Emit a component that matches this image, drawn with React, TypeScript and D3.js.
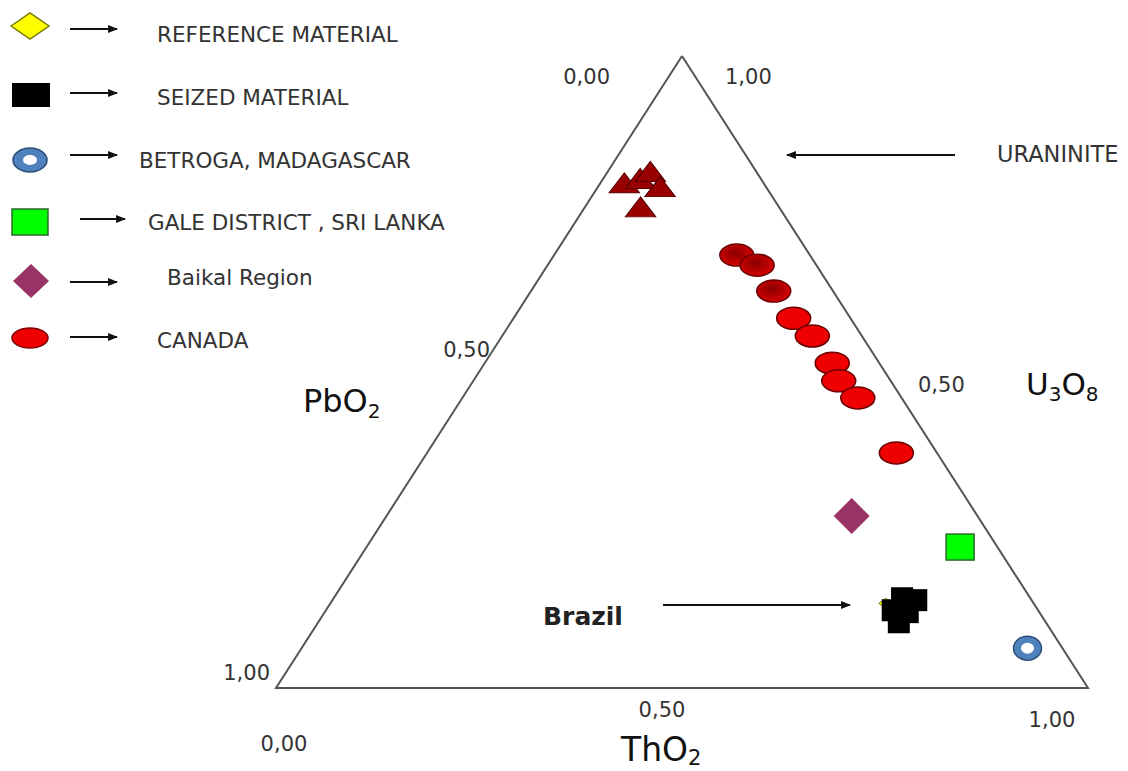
import * as d3 from 'd3'

const W = 1128
const H = 771

// compositions as [PbO2, ThO2, U3O8] fractions
const uraninite: number[][] = [
  [0.174, 0.032, 0.794],
  [0.151, 0.048, 0.801],
  [0.133, 0.055, 0.812],
  [0.133, 0.079, 0.788],
  [0.173, 0.071, 0.756],
]
const canada: number[][] = [
  [0.090, 0.225, 0.685],
  [0.073, 0.258, 0.669],
  [0.073, 0.299, 0.628],
  [0.070, 0.345, 0.585],
  [0.061, 0.382, 0.557],
  [0.058, 0.428, 0.514],
  [0.064, 0.450, 0.486],
  [0.054, 0.487, 0.459],
  [0.050, 0.578, 0.372],
]
const baikal: number[][] = [[0.155, 0.573, 0.272]]
const gale: number[][] = [[0.046, 0.731, 0.223]]
const reference: number[][] = [[0.182, 0.684, 0.134]]
const seized: number[][] = [
  [0.158, 0.700, 0.142],
  [0.142, 0.719, 0.139],
  [0.179, 0.698, 0.123],
  [0.162, 0.718, 0.120],
  [0.181, 0.715, 0.104],
]
const betroga: number[][] = [[0.043, 0.894, 0.063]]

const legendLabels = [
  'REFERENCE MATERIAL',
  'SEIZED MATERIAL',
  'BETROGA, MADAGASCAR',
  'GALE DISTRICT , SRI LANKA',
  'Baikal Region',
  'CANADA',
]
const tickLabels = ['0,00', '0,50', '1,00']

const x = d3.scaleLinear().domain([0, 1]).range([276, 1088])
const y = d3.scaleLinear().domain([0, 1]).range([688, 56])
const project = (d: number[]): [number, number] => [x(d[1] + d[2] / 2), y(d[2])]

const font = 'DejaVu Sans, sans-serif'
const triPath = d3.symbol(d3.symbolTriangle, 360)()

const Arrow = ({ x1, x2, yy }: { x1: number; x2: number; yy: number }) => (
  <line x1={x1} y1={yy} x2={x2} y2={yy} stroke="#111" strokeWidth={2.2} markerEnd="url(#arrow)" />
)

const App = () => {
  const top = project([0, 0, 1])
  const left = project([1, 0, 0])
  const right = project([0, 1, 0])
  const outline = d3.line()([top, left, right, top])

  // legend rows: marker centre y, arrow start/end, text x, text baseline
  const rows = [
    { my: 26, ax: [70, 117], ay: 29, tx: 157, ty: 42 },
    { my: 95, ax: [70, 117], ay: 93, tx: 157, ty: 105 },
    { my: 160, ax: [70, 117], ay: 155, tx: 139, ty: 168 },
    { my: 222, ax: [80, 125], ay: 219, tx: 148, ty: 230 },
    { my: 281, ax: [70, 117], ay: 282, tx: 167, ty: 285 },
    { my: 338, ax: [70, 117], ay: 337, tx: 157, ty: 348 },
  ]

  return (
    <svg width={W} height={H} style={{ position: 'absolute', left: 0, top: 0, background: '#fff' }}>
      <defs>
        <marker id="arrow" viewBox="0 0 10 8" refX={9} refY={4} markerWidth={4.5} markerHeight={3.6} orient="auto">
          <path d="M0,0 L10,4 L0,8 z" fill="#111" />
        </marker>
        <radialGradient id="darkRed" cx="45%" cy="40%" r="60%">
          <stop offset="0%" stopColor="#8a0000" />
          <stop offset="100%" stopColor="#d80000" />
        </radialGradient>
      </defs>

      {/* legend */}
      <g fontFamily={font} fontSize={21.5} fill="#333">
        <path d={`M11,${rows[0].my} L30,${rows[0].my - 13} L49,${rows[0].my} L30,${rows[0].my + 13} Z`} fill="#ffff00" stroke="#7a7a00" strokeWidth={1.5} />
        <rect x={12} y={rows[1].my - 12} width={38} height={24} fill="#000" />
        <ellipse cx={30} cy={rows[2].my} rx={17} ry={12} fill="#4f81bd" stroke="#2c4d75" strokeWidth={1.5} />
        <ellipse cx={30} cy={rows[2].my} rx={7} ry={5} fill="#fff" />
        <rect x={12} y={rows[3].my - 13} width={36} height={26} fill="#00ff00" stroke="#2a6a2a" strokeWidth={1.5} />
        <path d={`M13,${rows[4].my} L31,${rows[4].my - 17} L49,${rows[4].my} L31,${rows[4].my + 17} Z`} fill="#993366" />
        <ellipse cx={30} cy={rows[5].my} rx={18} ry={10} fill="#ee0000" stroke="#7a0000" strokeWidth={1.5} />
        {rows.map((r, i) => (
          <g key={i}>
            <Arrow x1={r.ax[0]} x2={r.ax[1]} yy={r.ay} />
            <text x={r.tx} y={r.ty}>{legendLabels[i]}</text>
          </g>
        ))}
      </g>

      {/* ternary frame */}
      <path d={outline ?? ''} fill="none" stroke="#555" strokeWidth={2} />

      {/* tick labels */}
      <g fontFamily={font} fontSize={21} fill="#333">
        <text x={top[0] - 72} y={top[1] + 28} textAnchor="end">{tickLabels[0]}</text>
        <text x={top[0] + 43} y={top[1] + 28}>{tickLabels[2]}</text>
        <text x={project([0.5, 0, 0.5])[0] + 11} y={project([0.5, 0, 0.5])[1] - 15} textAnchor="end">{tickLabels[1]}</text>
        <text x={project([0, 0.5, 0.5])[0] + 33} y={project([0, 0.5, 0.5])[1] + 20}>{tickLabels[1]}</text>
        <text x={left[0] - 6} y={left[1] - 8} textAnchor="end">{tickLabels[2]}</text>
        <text x={left[0] + 8} y={left[1] + 63} textAnchor="middle">{tickLabels[0]}</text>
        <text x={project([0, 0.5, 0])[0] - 20} y={project([0, 0.5, 0])[1] + 29} textAnchor="middle">{tickLabels[1]}</text>
        <text x={right[0] - 36} y={right[1] + 39} textAnchor="middle">{tickLabels[2]}</text>
      </g>

      {/* axis titles */}
      <g fontFamily={font} fill="#111">
        <text x={303} y={412} fontSize={32}>PbO<tspan fontSize={20} dy={6}>2</tspan></text>
        <text x={1026} y={395} fontSize={31}>U<tspan fontSize={20} dy={6}>3</tspan><tspan dy={-6}>O</tspan><tspan fontSize={20} dy={6}>8</tspan></text>
        <text x={621} y={761} fontSize={33}>ThO<tspan fontSize={21} dy={4}>2</tspan></text>
      </g>

      {/* annotations */}
      <g fontFamily={font} fill="#222">
        <Arrow x1={955} x2={787} yy={155} />
        <text x={997} y={162} fontSize={22.5} fill="#333">URANINITE</text>
        <Arrow x1={663} x2={850} yy={605} />
        <text x={543} y={625} fontSize={25} fontWeight="bold">Brazil</text>
      </g>

      {/* data */}
      {uraninite.map((d, i) => {
        const [px, py] = project(d)
        return <path key={'u' + i} d={triPath ?? ''} transform={`translate(${px},${py}) scale(1.05,0.8)`} fill="#990000" stroke="#5a0000" strokeWidth={1.2} />
      })}
      {canada.map((d, i) => {
        const [px, py] = project(d)
        return <ellipse key={'c' + i} cx={px} cy={py} rx={17} ry={11} fill={i < 3 ? 'url(#darkRed)' : '#ee0000'} stroke="#6a0000" strokeWidth={1.5} />
      })}
      {baikal.map((d, i) => {
        const [px, py] = project(d)
        return <path key={'b' + i} d={`M${px - 18},${py} L${px},${py - 18} L${px + 18},${py} L${px},${py + 18} Z`} fill="#993366" />
      })}
      {gale.map((d, i) => {
        const [px, py] = project(d)
        return <rect key={'g' + i} x={px - 14} y={py - 13} width={28} height={26} fill="#00ff00" stroke="#2a6a2a" strokeWidth={1.5} />
      })}
      {reference.map((d, i) => {
        const [px, py] = project(d)
        return <path key={'r' + i} d={`M${px - 7},${py} L${px},${py - 5} L${px + 7},${py} L${px},${py + 5} Z`} fill="#ffff00" stroke="#7a7a00" strokeWidth={1} />
      })}
      {seized.map((d, i) => {
        const [px, py] = project(d)
        return <rect key={'s' + i} x={px - 11} y={py - 11} width={22} height={22} fill="#000" />
      })}
      {betroga.map((d, i) => {
        const [px, py] = project(d)
        return (
          <g key={'m' + i}>
            <ellipse cx={px} cy={py} rx={14} ry={12} fill="#4f81bd" stroke="#2c4d75" strokeWidth={1.5} />
            <ellipse cx={px} cy={py} rx={6.5} ry={5.5} fill="#fff" />
          </g>
        )
      })}
    </svg>
  )
}

export default App
